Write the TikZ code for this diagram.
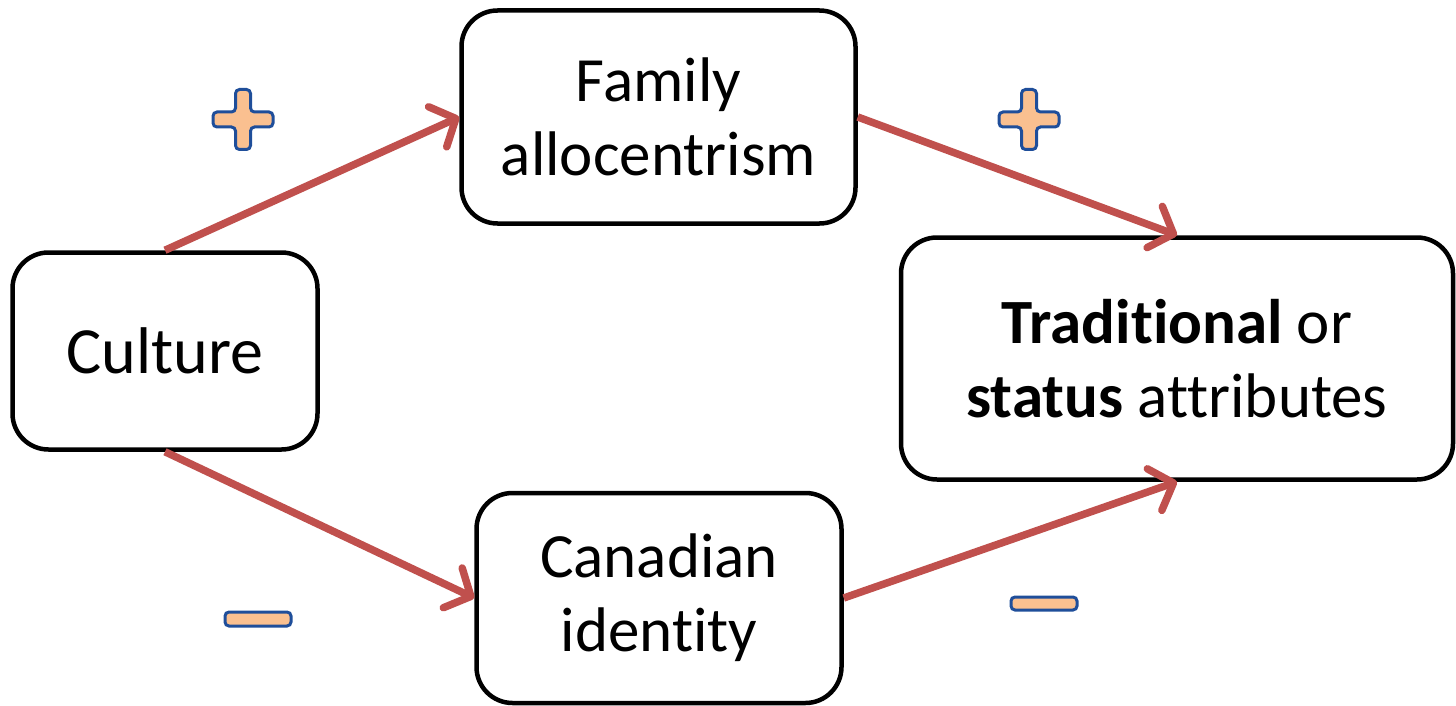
\documentclass[tikz,border=0pt]{standalone}
\usepackage{fontspec}
\setmainfont[Ligatures=NoCommon]{Carlito}
\usetikzlibrary{arrows.meta}
\definecolor{arrowred}{HTML}{C0504D}
\definecolor{signblue}{HTML}{1F4E9A}
\definecolor{signfill}{HTML}{FAC090}
\tikzset{
  box/.style={draw=black, line width=4.5pt, rounded corners=36pt, align=center,
    font=\fontsize{63}{74}\selectfont, inner sep=0pt},
  link/.style={draw=arrowred, line width=7.5pt,
    -{Straight Barb[length=20pt,width=44pt,round]}},
  sign/.style={draw=signblue, fill=signfill, line width=3pt, rounded corners=4pt}
}
\begin{document}
\begin{tikzpicture}[x=1pt,y=-1pt]
\useasboundingbox (0,0) rectangle (1456,706);
\node[box, minimum width=305pt, minimum height=197pt, font=\fontsize{66}{78}\selectfont] (cul) at (165,351) {Culture};
\node[box, minimum width=394pt, minimum height=213pt] (fam) at (658.5,117) {Family\\allocentrism};
\node[box, minimum width=365pt, minimum height=210pt] (can) at (659,598) {Canadian\\identity};
\node[box, minimum width=552pt, minimum height=242pt] (trad) at (1177,358.5) {\textbf{Traditional} or\\\textbf{status} attributes};
\draw[link] (cul.north) -- (fam.west);
\draw[link] (cul.south) -- (can.west);
\draw[link] (fam.east) -- (trad.north);
\draw[link] (can.east) -- (trad.south);
% plus signs
\foreach \cx/\cy in {243/119.5, 1029/119.5} {
  \draw[sign] (\cx-7.5,\cy-30) -- (\cx+7.5,\cy-30) -- (\cx+7.5,\cy-7.5) -- (\cx+30,\cy-7.5)
    -- (\cx+30,\cy+7.5) -- (\cx+7.5,\cy+7.5) -- (\cx+7.5,\cy+30) -- (\cx-7.5,\cy+30)
    -- (\cx-7.5,\cy+7.5) -- (\cx-30,\cy+7.5) -- (\cx-30,\cy-7.5) -- (\cx-7.5,\cy-7.5) -- cycle;
}
% minus signs
\draw[sign] (225,612) rectangle (291,626);
\draw[sign] (1011,597) rectangle (1077,610);
\end{tikzpicture}
\end{document}
